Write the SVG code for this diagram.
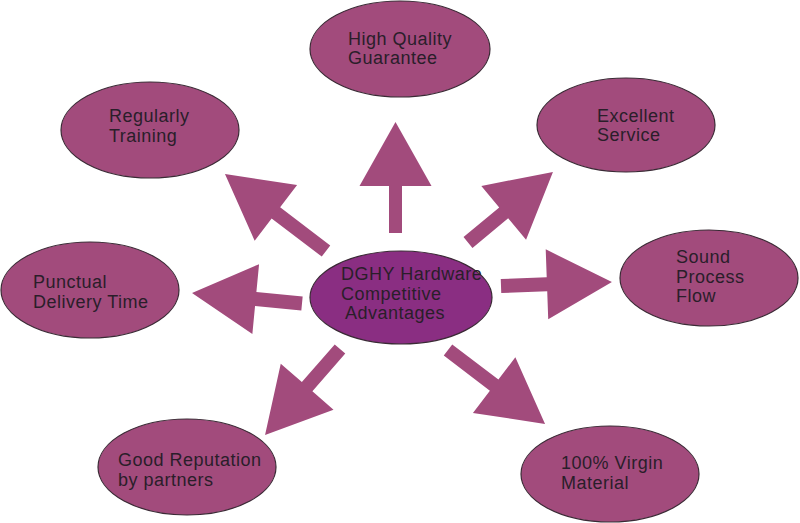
<svg xmlns="http://www.w3.org/2000/svg" width="800" height="523" viewBox="0 0 800 523">
<style>
.node{fill:#a24b7c;stroke:#3a2a35;stroke-width:1.2}
.center{fill:#8a2e82;stroke:#3a2a35;stroke-width:1.2}
.arrow{fill:#a24b7c}
text{font-family:"Liberation Sans",Arial,sans-serif;font-size:18px;letter-spacing:0.5px;fill:#2a1e2a}
</style>
<rect width="800" height="523" fill="#ffffff"/>
<g id="connectors">
<polygon class="arrow" transform="translate(395.5,233) rotate(-90)" points="0,-6.5 47,-6.5 47,-36 111,0 47,36 47,6.5 0,6.5"/>
<polygon class="arrow" transform="translate(326,251) rotate(-142.7)" points="0,-7 63,-7 63,-35 127,0 63,35 63,7 0,7"/>
<polygon class="arrow" transform="translate(302,303.5) rotate(-174.5)" points="0,-7 46.5,-7 46.5,-35 110.5,0 46.5,35 46.5,7 0,7"/>
<polygon class="arrow" transform="translate(468,242.5) rotate(-39.7)" points="0,-7 46.4,-7 46.4,-35 110.4,0 46.4,35 46.4,7 0,7"/>
<polygon class="arrow" transform="translate(501,286) rotate(-2.06)" points="0,-7 46,-7 46,-35 111,0 46,35 46,7 0,7"/>
<polygon class="arrow" transform="translate(340,349) rotate(131.1)" points="0,-7 50,-7 50,-35 114,0 50,35 50,7 0,7"/>
<polygon class="arrow" transform="translate(448,350) rotate(37.3)" points="0,-7 58,-7 58,-35 122,0 58,35 58,7 0,7"/>
</g>
<g id="node-quality">
<ellipse class="node" cx="400" cy="49" rx="90" ry="48"/>
<text x="348" y="45">High Quality</text>
<text x="348" y="64">Guarantee</text>
</g>
<g id="node-training">
<ellipse class="node" cx="150" cy="130" rx="89" ry="48"/>
<text x="109" y="122">Regularly</text>
<text x="109" y="142">Training</text>
</g>
<g id="node-service">
<ellipse class="node" cx="626" cy="125" rx="89" ry="47"/>
<text x="597" y="122">Excellent</text>
<text x="597" y="141">Service</text>
</g>
<g id="node-delivery">
<ellipse class="node" cx="90" cy="290" rx="89" ry="48"/>
<text x="33" y="288">Punctual</text>
<text x="33" y="308">Delivery Time</text>
</g>
<g id="node-process">
<ellipse class="node" cx="709" cy="278" rx="89" ry="48"/>
<text x="676" y="263">Sound</text>
<text x="676" y="283">Process</text>
<text x="676" y="302">Flow</text>
</g>
<g id="node-center">
<ellipse class="center" cx="401" cy="297.5" rx="91" ry="46.5"/>
<text x="341" y="280">DGHY Hardware</text>
<text x="341" y="300">Competitive</text>
<text x="345" y="319">Advantages</text>
</g>
<g id="node-reputation">
<ellipse class="node" cx="187" cy="467" rx="89" ry="48"/>
<text x="118" y="466">Good Reputation</text>
<text x="118" y="486">by partners</text>
</g>
<g id="node-virgin">
<ellipse class="node" cx="610" cy="474" rx="89" ry="48"/>
<text x="561" y="469">100% Virgin</text>
<text x="561" y="489">Material</text>
</g>
</svg>
